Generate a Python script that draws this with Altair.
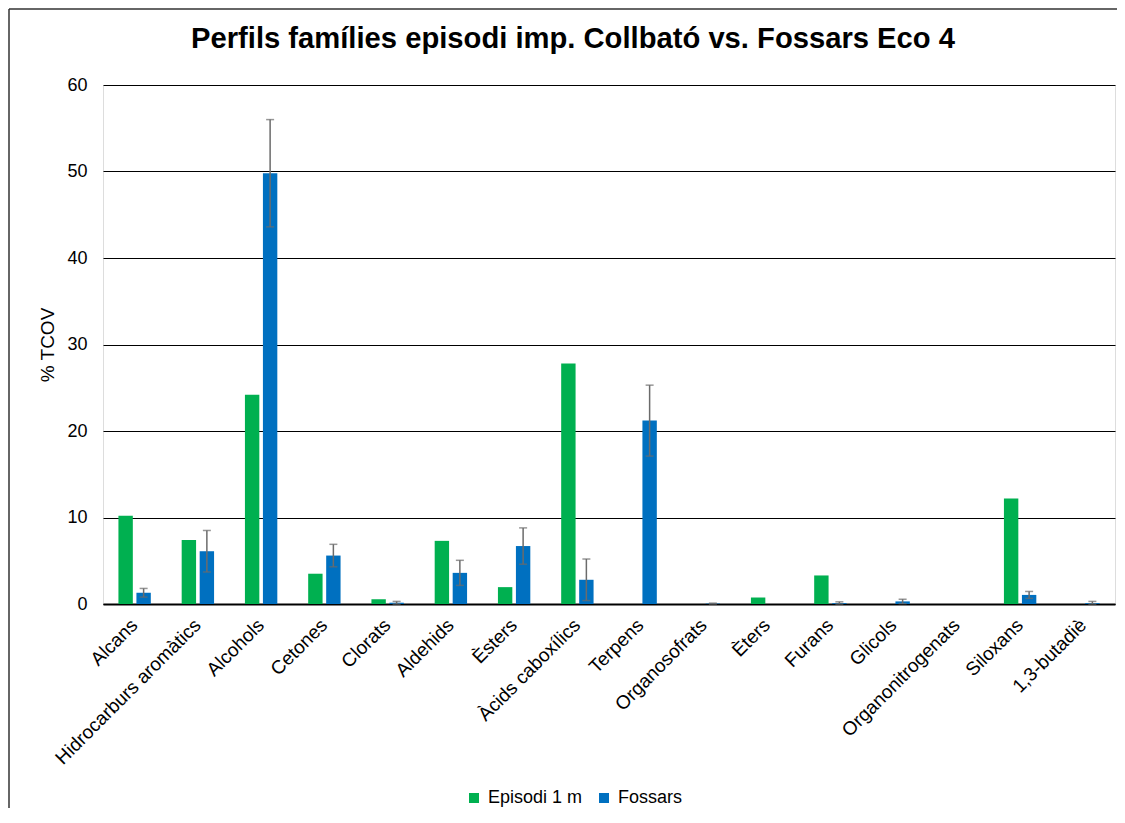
import altair as alt
import pandas as pd

categories = ["Alcans", "Hidrocarburs aromàtics", "Alcohols", "Cetones", "Clorats",
              "Aldehids", "Èsters", "Àcids caboxílics", "Terpens", "Organosofrats",
              "Èters", "Furans", "Glicols", "Organonitrogenats", "Siloxans", "1,3-butadiè"]
series = ["Episodi 1 m", "Fossars"]
episodi = [10.2, 7.4, 24.2, 3.5, 0.55, 7.3, 1.95, 27.8, 0, 0, 0.75, 3.3, 0, 0, 12.2, 0]
fossars = [1.3, 6.1, 49.8, 5.6, 0.15, 3.6, 6.7, 2.8, 21.2, 0.05, 0, 0.1, 0.3, 0, 1.05, 0.1]
fossars_err = [0.5, 2.4, 6.2, 1.3, 0.15, 1.45, 2.1, 2.4, 4.1, 0.05, 0, 0.15, 0.25, 0, 0.4, 0.2]
colors = ["#00B050", "#0070C0"]

rows = []
for c, e in zip(categories, episodi):
    rows.append({"cat": c, "series": series[0], "value": e})
for c, f in zip(categories, fossars):
    rows.append({"cat": c, "series": series[1], "value": f})
df = pd.DataFrame(rows)

err_rows = []
for c, f, s in zip(categories, fossars, fossars_err):
    if s > 0:
        err_rows.append({"cat": c, "series": series[1], "lo": max(f - s, 0), "hi": f + s})
edf = pd.DataFrame(err_rows)

FONT = "Liberation Sans"

x_enc = alt.X("cat:N", sort=categories, title=None,
              scale=alt.Scale(paddingInner=0.488, paddingOuter=0.244),
              axis=alt.Axis(labelAngle=-45, labelAlign="right", labelBaseline="alphabetic",
                            labelFontSize=19, labelColor="#000000",
                            labelFont=FONT, ticks=False, domain=True, domainColor="#000000",
                            domainWidth=2, labelPadding=22, labelOffset=4,
                            labelLimit=400))
xo_enc = alt.XOffset("series:N", sort=series,
                     scale=alt.Scale(domain=series, paddingInner=0.2, paddingOuter=0))

bars = alt.Chart(df).mark_bar().encode(
    x=x_enc,
    xOffset=xo_enc,
    y=alt.Y("value:Q", title="% TCOV",
            scale=alt.Scale(domain=[0, 60], nice=False),
            axis=alt.Axis(values=[0, 10, 20, 30, 40, 50, 60], labelFontSize=18,
                          labelColor="#000000", labelFont=FONT, ticks=False,
                          labelPadding=16, domain=False, gridColor="#000000",
                          gridWidth=1.2, gridOpacity=1, titleFont=FONT,
                          titleFontSize=19, titleFontWeight="normal",
                          titleColor="#000000", titlePadding=9)),
    color=alt.Color("series:N", sort=series,
                    scale=alt.Scale(domain=series, range=colors),
                    legend=alt.Legend(title=None, orient="none", legendX=362, legendY=704,
                                      direction="horizontal", symbolType="square",
                                      symbolSize=100, symbolStrokeWidth=0,
                                      labelFontSize=18, labelFont=FONT,
                                      labelColor="#000000", columnPadding=12,
                                      labelOffset=5)),
)

err_rule = alt.Chart(edf).mark_rule(color="#6b6b6b", strokeWidth=1.5).encode(
    x=alt.X("cat:N", sort=categories),
    xOffset=xo_enc,
    y="lo:Q",
    y2="hi:Q",
)
cap_hi = alt.Chart(edf).mark_tick(color="#6b6b6b", size=8, thickness=1.5).encode(
    x=alt.X("cat:N", sort=categories),
    xOffset=xo_enc,
    y="hi:Q",
)
cap_lo = alt.Chart(edf).mark_tick(color="#6b6b6b", size=8, thickness=1.5).encode(
    x=alt.X("cat:N", sort=categories),
    xOffset=xo_enc,
    y="lo:Q",
)

frame_left = alt.Chart(alt.Data(values=[{}])).mark_rule(
    color="#333333", strokeWidth=1.5, clip=False).encode(
    x=alt.value(-94), y=alt.value(-76), y2=alt.value(730))
frame_top = alt.Chart(alt.Data(values=[{}])).mark_rule(
    color="#333333", strokeWidth=1.5, clip=False).encode(
    x=alt.value(-94), x2=alt.value(1014), y=alt.value(-76))

chart = alt.layer(frame_left, frame_top, bars, err_rule, cap_hi, cap_lo).properties(
    width=1012, height=519,
    autosize=alt.AutoSizeParams(type="none"),
    padding={"left": 95, "top": 77, "right": 2, "bottom": 204},
    title=alt.TitleParams("Perfils famílies episodi imp. Collbató vs. Fossars Eco 4",
                          font=FONT, fontSize=29.2, fontWeight="bold", color="#000000",
                          anchor="middle", frame="group", dx=-36, offset=0,
                          baseline="alphabetic", dy=69),
).configure_view(stroke="#000000", strokeWidth=1.5).configure(background="#ffffff")

chart.save("out.html", embed_options={"renderer": "svg", "actions": False})
